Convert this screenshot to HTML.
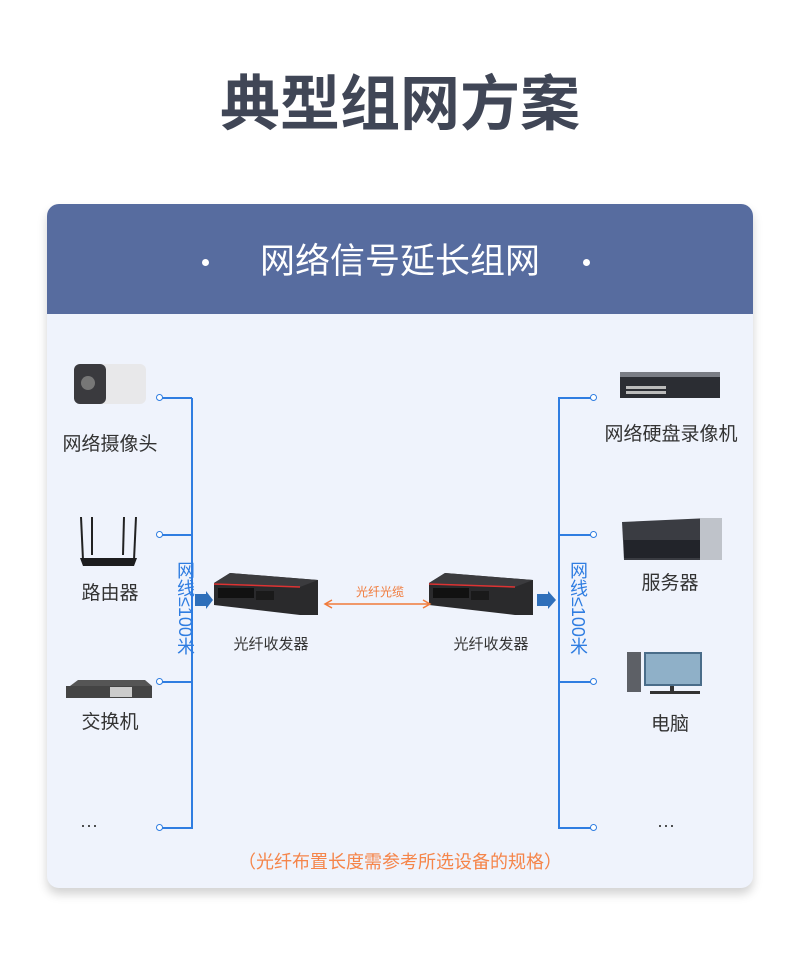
<!DOCTYPE html>
<html><head><meta charset="utf-8"><style>
*{margin:0;padding:0;box-sizing:border-box}
body{width:800px;height:958px;background:#fff;position:relative;overflow:hidden;font-family:"Liberation Sans","Noto Sans CJK SC",sans-serif}
.a{position:absolute}
.t{position:absolute;white-space:nowrap;color:#333;font-size:19px;text-align:center}
.vl{position:absolute;background:#2f7de1}
.dot{position:absolute;width:7px;height:7px;border:1.5px solid #2f7de1;border-radius:50%;background:#fff}
.vt{position:absolute;writing-mode:vertical-rl;color:#2f7de1;font-size:18px;white-space:nowrap}
</style></head><body>
<div class="t" style="left:0;width:800px;top:56px;font-size:60px;font-weight:bold;color:#404656">典型组网方案</div>
<div class="a" style="left:47px;top:204px;width:706px;height:684px;border-radius:12px;background:#eff3fc;box-shadow:0 6px 10px rgba(0,0,0,0.18);overflow:hidden">
  <div class="a" style="left:0;top:0;width:706px;height:110px;background:#576c9f"></div>
</div>
<div class="t" style="left:0;width:800px;top:233px;font-size:35px;color:#fff">网络信号延长组网</div>
<div class="a" style="left:202px;top:259px;width:7px;height:7px;border-radius:50%;background:#fff"></div>
<div class="a" style="left:583px;top:259px;width:7px;height:7px;border-radius:50%;background:#fff"></div>

<div class="vl" style="left:191px;top:398px;width:2px;height:431px"></div>
<div class="vl" style="left:162px;top:397px;width:30px;height:2px"></div>
<div class="vl" style="left:162px;top:534px;width:30px;height:2px"></div>
<div class="vl" style="left:162px;top:681px;width:30px;height:2px"></div>
<div class="vl" style="left:162px;top:827px;width:30px;height:2px"></div>
<div class="dot" style="left:156px;top:394px"></div>
<div class="dot" style="left:156px;top:531px"></div>
<div class="dot" style="left:156px;top:678px"></div>
<div class="dot" style="left:156px;top:824px"></div>
<div class="vt" style="left:172px;top:561px">网线≤100米</div>
<div class="vl" style="left:558px;top:398px;width:2px;height:431px"></div>
<div class="vl" style="left:558px;top:397px;width:34px;height:2px"></div>
<div class="vl" style="left:558px;top:534px;width:34px;height:2px"></div>
<div class="vl" style="left:558px;top:681px;width:34px;height:2px"></div>
<div class="vl" style="left:558px;top:827px;width:34px;height:2px"></div>
<div class="dot" style="left:590px;top:394px"></div>
<div class="dot" style="left:590px;top:531px"></div>
<div class="dot" style="left:590px;top:678px"></div>
<div class="dot" style="left:590px;top:824px"></div>
<div class="vt" style="left:565px;top:561px">网线≤100米</div>

<svg class="a" style="left:0;top:0" width="800" height="958">
 <rect x="74" y="364" width="72" height="40" rx="6" fill="#e8e8ea"/>
 <rect x="74" y="364" width="32" height="40" rx="6" fill="#3a3a3e"/>
 <circle cx="88" cy="383" r="7" fill="#777"/>
 <g stroke="#222" stroke-width="2"><line x1="81" y1="517" x2="83" y2="560"/><line x1="92" y1="517" x2="92" y2="555"/><line x1="124" y1="517" x2="123" y2="555"/><line x1="136" y1="517" x2="134" y2="560"/></g>
 <path d="M80 558 L137 558 L134 566 L83 566 Z" fill="#1d1d1f"/>
 <path d="M70 686 L78 680 L145 680 L152 686 Z" fill="#555"/>
 <rect x="66" y="686" width="86" height="12" fill="#444"/>
 <rect x="110" y="687" width="22" height="10" fill="#ccc"/>
 <g id="tr">
 <path d="M214 583 L230 573 L318 580 L318 615 L300 615 L214 605 Z" fill="#2a2a2c"/>
 <path d="M214 583 L300 587 L318 580 L230 573 Z" fill="#3b3b3e"/>
 <line x1="214" y1="584" x2="300" y2="587" stroke="#d33" stroke-width="1.5"/>
 <rect x="218" y="588" width="36" height="10" fill="#111"/>
 <rect x="256" y="591" width="18" height="9" fill="#1a1a1a"/>
 </g>
 <use href="#tr" x="215" y="0"/>
 <path d="M195 594 L206 594 L206 591 L213 600 L206 609 L206 606 L195 606 Z" fill="#2f6fba"/>
 <path d="M537 594 L548 594 L548 591 L556 600 L548 609 L548 606 L537 606 Z" fill="#2f6fba"/>
 <line x1="326" y1="604" x2="429" y2="604" stroke="#f07a3a" stroke-width="1.5"/>
 <path d="M332 600 L325 604 L332 608" fill="none" stroke="#f07a3a" stroke-width="1.5"/>
 <path d="M423 600 L430 604 L423 608" fill="none" stroke="#f07a3a" stroke-width="1.5"/>
 <rect x="620" y="372" width="100" height="26" fill="#2b2d33"/>
 <rect x="620" y="372" width="100" height="5" fill="#7a7d85"/>
 <g fill="#bbb"><rect x="626" y="386" width="40" height="3"/><rect x="626" y="391" width="40" height="3"/></g>
 <path d="M622 522 L710 518 L722 524 L722 560 L624 560 Z" fill="#3a3c42"/>
 <rect x="624" y="540" width="94" height="18" fill="#22242a"/>
 <rect x="700" y="518" width="22" height="42" fill="#bfc3ca"/>
 <rect x="627" y="652" width="14" height="40" fill="#5d6066"/>
 <rect x="644" y="652" width="58" height="34" fill="#4a6d8a"/>
 <rect x="646" y="654" width="54" height="30" fill="#8fb0c8"/>
 <rect x="670" y="686" width="4" height="5" fill="#333"/>
 <rect x="650" y="691" width="50" height="3" fill="#333"/>
</svg>

<div class="t" style="left:60px;width:100px;top:429px">网络摄像头</div>
<div class="t" style="left:60px;width:100px;top:578px">路由器</div>
<div class="t" style="left:60px;width:100px;top:707px">交换机</div>
<div class="t" style="left:80px;top:815px;font-size:18px">···</div>
<div class="t" style="left:600px;width:142px;top:419px">网络硬盘录像机</div>
<div class="t" style="left:620px;width:100px;top:568px">服务器</div>
<div class="t" style="left:620px;width:100px;top:709px">电脑</div>
<div class="t" style="left:657px;top:815px;font-size:18px">···</div>
<div class="t" style="left:216px;width:110px;top:633px;font-size:15px">光纤收发器</div>
<div class="t" style="left:436px;width:110px;top:633px;font-size:15px">光纤收发器</div>
<div class="t" style="left:330px;width:100px;top:583px;font-size:12px;color:#f07a3a">光纤光缆</div>
<div class="t" style="left:0;width:800px;top:848px;font-size:18px;color:#f5854a">（光纤布置长度需参考所选设备的规格）</div>
</body></html>
